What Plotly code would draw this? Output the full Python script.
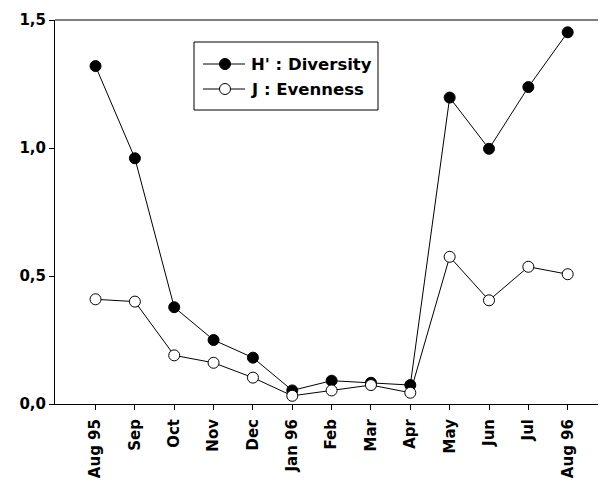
import plotly.graph_objects as go

months = ["Aug 95", "Sep", "Oct", "Nov", "Dec", "Jan 96", "Feb", "Mar",
          "Apr", "May", "Jun", "Jul", "Aug 96"]
diversity = [1.32, 0.96, 0.378, 0.25, 0.181, 0.053, 0.091, 0.083,
             0.074, 1.197, 0.997, 1.238, 1.452]
evenness = [0.409, 0.400, 0.190, 0.161, 0.103, 0.032, 0.053, 0.074,
            0.044, 0.575, 0.405, 0.536, 0.507]
series_names = ["H' : Diversity", "J : Evenness"]
fill_colors = ["black", "white"]

x = list(range(len(months)))
font_fam = "DejaVu Sans, sans-serif"
bold15 = dict(family=font_fam, size=15, color="black", weight="bold")
legend_font = dict(family=font_fam, size=16.5, color="black", weight="bold")

# plot-area geometry in pixels (used to place the legend box)
W, H = 600, 483
ML, MR, MT, MB = 55, 2, 20, 79
PW, PH = W - ML - MR, H - MT - MB


def px(xp):
    return (xp - ML) / PW


def py(yp):
    return (H - MB - yp) / PH


fig = go.Figure()
for vals, name, fc in zip([diversity, evenness], series_names, fill_colors):
    fig.add_trace(go.Scatter(
        x=x, y=vals, mode="lines+markers", name=name,
        line=dict(color="black", width=1),
        marker=dict(symbol="circle", size=11, color=fc,
                    line=dict(color="black", width=1)),
        cliponaxis=False, showlegend=False,
    ))

# boxed legend
shapes = [
    dict(type="line", xref="paper", yref="paper", x0=0, x1=1, y0=1, y1=1,
         line=dict(color="black", width=1)),
    dict(type="rect", xref="paper", yref="paper",
         x0=px(194), x1=px(378), y0=py(110), y1=py(42),
         line=dict(color="black", width=1), fillcolor="white", layer="above"),
]
annotations = []
for row_y, name, fc in zip([64, 89], series_names, fill_colors):
    shapes.append(dict(type="line", xref="paper", yref="paper",
                       x0=px(203), x1=px(245), y0=py(row_y), y1=py(row_y),
                       line=dict(color="black", width=1), layer="above"))
    shapes.append(dict(type="circle", xref="paper", yref="paper",
                       xsizemode="pixel", ysizemode="pixel",
                       xanchor=px(225), yanchor=py(row_y),
                       x0=-5.5, x1=5.5, y0=-5.5, y1=5.5,
                       fillcolor=fc, line=dict(color="black", width=1),
                       layer="above"))
    annotations.append(dict(xref="paper", yref="paper",
                            x=px(249), y=py(row_y), xanchor="left",
                            yanchor="middle", text=name, showarrow=False,
                            font=legend_font))

fig.update_layout(
    width=W, height=H,
    margin=dict(l=ML, r=MR, t=MT, b=MB),
    paper_bgcolor="white", plot_bgcolor="white",
    separators=",.",
    font=bold15,
    showlegend=False,
    xaxis=dict(
        range=[-1.03, 12.77],
        tickmode="array", tickvals=x, ticktext=months,
        tickangle=-90,
        ticks="outside", ticklen=5, tickwidth=1, tickcolor="black",
        showline=True, linecolor="black", linewidth=1,
        showgrid=False, zeroline=False,
        tickfont=bold15, ticklabelstandoff=3,
    ),
    yaxis=dict(
        range=[0, 1.5],
        tickmode="array", tickvals=[0, 0.5, 1.0, 1.5],
        tickformat=".1f",
        ticks="outside", ticklen=5, tickwidth=1, tickcolor="black",
        showline=True, linecolor="black", linewidth=1,
        showgrid=False, zeroline=False,
        tickfont=bold15,
    ),
    shapes=shapes,
    annotations=annotations,
)

fig.write_html("out.html")
